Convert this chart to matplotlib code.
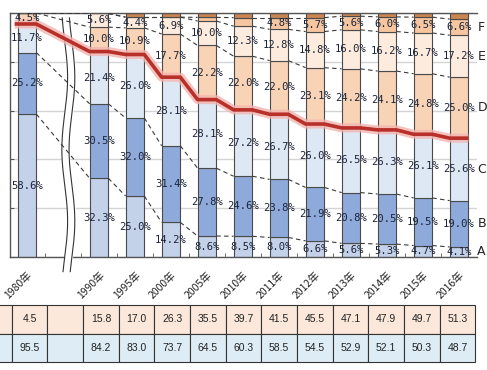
import numpy as np
import matplotlib
matplotlib.use("Agg")
import matplotlib.pyplot as plt
from matplotlib.patches import Rectangle

# ---------------- data ----------------
years = ['1980年', '1990年', '1995年', '2000年', '2005年', '2010年',
         '2011年', '2012年', '2013年', '2014年', '2015年', '2016年']
slots = [0, 2, 3, 4, 5, 6, 7, 8, 9, 10, 11, 12]   # slot 1 = axis break
A = [58.6, 32.3, 25.0, 14.2, 8.6, 8.5, 8.0, 6.6, 5.6, 5.3, 4.7, 4.1]
B = [25.2, 30.5, 32.0, 31.4, 27.8, 24.6, 23.8, 21.9, 20.8, 20.5, 19.5, 19.0]
C = [11.7, 21.4, 26.0, 28.1, 28.1, 27.2, 26.7, 26.0, 26.5, 26.3, 26.1, 25.6]
D = [4.5, 10.0, 10.9, 17.7, 22.2, 22.0, 22.0, 23.1, 24.2, 24.1, 24.8, 25.0]
E = [0.0, 5.6, 4.4, 6.9, 10.0, 12.3, 12.8, 14.8, 16.0, 16.2, 16.7, 17.2]
F = [0.0, 0.0, 0.0, 0.0, 1.5, 3.5, 4.8, 5.7, 5.6, 6.0, 6.5, 6.6]
G = [0.0, 0.2, 1.7, 1.7, 1.8, 1.9, 1.9, 1.9, 1.3, 1.6, 1.7, 2.5]
# which segments carry a percentage label
label_A = [True] * 12
label_B = [True] * 12
label_C = [True] * 12
label_D = [True] * 12
label_E = [False] + [True] * 11
label_F = [False] * 6 + [True] * 6
row_upper = [4.5, 15.8, 17.0, 26.3, 35.5, 39.7, 41.5, 45.5, 47.1, 47.9, 49.7, 51.3]
row_lower = [95.5, 84.2, 83.0, 73.7, 64.5, 60.3, 58.5, 54.5, 52.9, 52.1, 50.3, 48.7]
side_letters = ['A', 'B', 'C', 'D', 'E', 'F']

# ---------------- style ----------------
colors = ['#c3d2e8', '#8eaadb', '#dde8f4', '#f8d3b6', '#fdebdd', '#f6c6a0', '#c98552']
W = 0.52
plt.rcParams['font.family'] = ['Noto Sans CJK JP', 'DejaVu Sans']

fig = plt.figure(figsize=(4.87, 3.70), dpi=100)
fig.patch.set_facecolor('white')
ax = fig.add_axes([10/487, 1-257/370, 467/487, 244/370])
ax.set_xlim(-0.47, 12.5)
ax.set_ylim(0, 100)

series = [A, B, C, D, E, F, G]
labels = [label_A, label_B, label_C, label_D, label_E, label_F, [False]*12]
x = np.array(slots, dtype=float)
bottom = np.zeros(len(x))
cums = []
for k, (vals, col) in enumerate(zip(series, colors)):
    v = np.array(vals)
    ax.bar(x, v, W, bottom=bottom, color=col, edgecolor='#4a4a4a',
           linewidth=0.8, zorder=2)
    for i in range(len(x)):
        if labels[k][i]:
            ax.text(x[i], bottom[i] + v[i]/2, f'{v[i]:.1f}%', ha='center',
                    va='center', fontsize=7.6, family='DejaVu Sans Mono',
                    color='#1c2438', zorder=6)
    bottom = bottom + v
    cums.append(bottom.copy())

# dashed connectors for internal boundaries (except C/D which is the red line)
for k, cb in enumerate(cums[:-1]):
    if k == 2:
        continue
    for i in range(len(x)-1):
        ax.plot([x[i]+W/2, x[i+1]-W/2], [cb[i], cb[i+1]], ls=(0, (4, 3)),
                color='#3a3a3a', lw=0.8, zorder=4)

# red line along C/D boundary
cd = cums[2]
px, py = [], []
for i in range(len(x)):
    px += [x[i]-W/2 - (0.08 if i == 0 else 0), x[i]+W/2]
    py += [cd[i], cd[i]]
ax.plot(px, py, color='#f3b5b0', lw=6.5, solid_capstyle='butt', zorder=4.5, alpha=0.8)
ax.plot(px, py, color='#b8302a', lw=2.6, solid_capstyle='butt', zorder=5)

# grid, spines, ticks
ax.set_yticks([0, 20, 40, 60, 80, 100])
ax.yaxis.grid(True, color='#d4d4d4', lw=1)
ax.set_axisbelow(True)
ax.tick_params(axis='y', direction='in', length=3, labelleft=False, color='#555')
for s in ['left', 'bottom', 'top']:
    ax.spines[s].set_color('#555')
    ax.spines[s].set_linewidth(1)
ax.spines['right'].set_visible(False)
ax.set_xticks(x)
ax.set_xticklabels(years, rotation=45, ha='right', va='top',
                   rotation_mode='anchor', fontsize=7.5, color='#222')
ax.tick_params(axis='x', length=0, pad=9)
ax.set_xticks(np.arange(0.5, 12, 1.0), minor=True)
ax.tick_params(axis='x', which='minor', direction='in', length=3, color='#555')

# axis break (wavy double line)
yy = np.linspace(-6, 98, 300)
xc = 1.15 + 0.08*np.sin(yy/100*2*np.pi*1.7)
ax.fill_betweenx(yy, xc-0.1, xc+0.1, color='white', zorder=3, clip_on=False)
ax.plot(xc-0.1, yy, color='#333', lw=0.8, zorder=3.5, clip_on=False)
ax.plot(xc+0.1, yy, color='#333', lw=0.8, zorder=3.5, clip_on=False)

# side letters at the 2016 segment centres
last = len(x)-1
prev = 0.0
for k, letter in enumerate(side_letters):
    c = cums[k][last]
    ax.text(12.51, (prev + c)/2, letter, ha='left', va='center', fontsize=9,
            color='#222', family='DejaVu Sans', clip_on=False)
    prev = c

# ---------------- table ----------------
axt = fig.add_axes([10/487, 1-362/370, 467/487, 57/370])
axt.set_xlim(-0.47, 12.5)
axt.set_ylim(0, 2)
axt.axis('off')
step = 0.99
left0 = -0.42
for j in range(14):
    if j == 0:
        xl, wd = left0 - 1.2, 1.2
    else:
        xl, wd = left0 + (j-1)*step, step
    axt.add_patch(Rectangle((xl, 1), wd, 1, facecolor='#fbe8da', edgecolor='#333',
                            lw=0.8, clip_on=False))
    axt.add_patch(Rectangle((xl, 0), wd, 1, facecolor='#deedf5', edgecolor='#333',
                            lw=0.8, clip_on=False))
for i, s in enumerate(slots):
    cx = left0 + s*step + step/2
    axt.text(cx, 1.5, f'{row_upper[i]:.1f}', ha='center', va='center',
             fontsize=7.5, family='Liberation Sans', color='#222')
    axt.text(cx, 0.5, f'{row_lower[i]:.1f}', ha='center', va='center',
             fontsize=7.5, family='Liberation Sans', color='#222')

fig.savefig('out.png', dpi=100, facecolor='white')
